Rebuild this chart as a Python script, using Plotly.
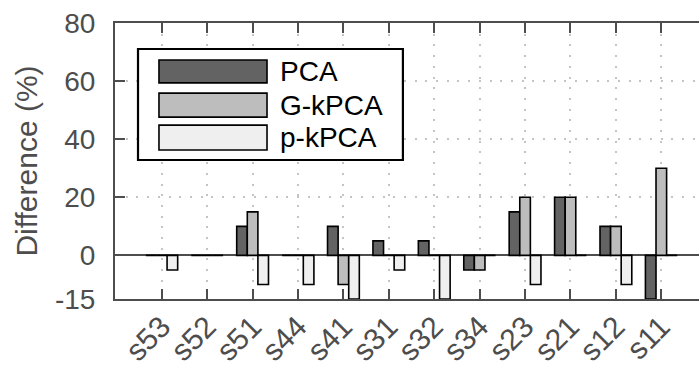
import plotly.graph_objects as go

categories = ["s53", "s52", "s51", "s44", "s41", "s31", "s32", "s34", "s23", "s21", "s12", "s11"]
pca = [0, 0, 10, 0, 10, 5, 5, -5, 15, 20, 10, -15]
gkpca = [0, 0, 15, 0, -10, 0, 0, -5, 20, 20, 10, 30]
pkpca = [-5, 0, -10, -10, -15, -5, -15, 0, -10, 0, -10, 0]
series_names = ["PCA", "G-kPCA", "p-kPCA"]
series_colors = ["#636363", "#bdbdbd", "#efefef"]
y_ticks = [-15, 0, 20, 40, 60, 80]

FONT = "Liberation Sans, Arial, Helvetica, sans-serif"
AX = "#4d4d4d"
GRID = "#c4c4c4"

fig = go.Figure()
for name, vals, col in zip(series_names, [pca, gkpca, pkpca], series_colors):
    fig.add_trace(go.Bar(
        x=categories, y=vals, name=name,
        marker=dict(color=col, line=dict(color="#000000", width=1.6)),
        showlegend=False,
    ))

fig.update_layout(
    width=699, height=369,
    margin=dict(l=115, r=0, t=23, b=70),
    paper_bgcolor="white", plot_bgcolor="white",
    barmode="group", bargap=0.3, bargroupgap=0,
    font=dict(family=FONT, color=AX),
    xaxis=dict(
        type="category", range=[-1.03, 11.83], automargin=False,
        showline=True, linecolor=AX, linewidth=2, mirror="ticks",
        ticks="inside", ticklen=10, tickwidth=2, tickcolor=AX,
        tickangle=-45, tickfont=dict(size=30, color=AX, family=FONT),
        showgrid=True, gridcolor=GRID, griddash="2px,8.7px", gridwidth=2,
        zeroline=False, ticklabelstandoff=-4,
    ),
    yaxis=dict(
        range=[-15, 80], tickvals=y_ticks, ticktext=[str(v) for v in y_ticks], automargin=False,
        showline=True, linecolor=AX, linewidth=2, mirror=False,
        ticks="inside", ticklen=10, tickwidth=2, tickcolor=AX,
        tickfont=dict(size=28, color=AX, family=FONT),
        showgrid=True, gridcolor=GRID, griddash="2px,8.7px", gridwidth=2,
        zeroline=True, zerolinecolor=AX, zerolinewidth=2,
        title=dict(text="Difference (%)", font=dict(size=30, color=AX, family=FONT), standoff=8),
        ticklabelstandoff=12,
    ),
)

# legend drawn manually (large swatches as in the reference)
shapes = [dict(type="rect", xref="paper", yref="paper", x0=0.0394, x1=0.493, y0=0.5036, y1=0.9058,
               line=dict(color="#000000", width=2.2), fillcolor="white", layer="above")]
row_y = [(0.866, 0.783), (0.746, 0.659), (0.630, 0.540)]
annotations = []
for (ytop, ybot), name, col in zip(row_y, series_names, series_colors):
    shapes.append(dict(type="rect", xref="paper", yref="paper", x0=0.0753, x1=0.2603, y0=ybot, y1=ytop,
                       line=dict(color="#000000", width=1.6), fillcolor=col, layer="above"))
    annotations.append(dict(xref="paper", yref="paper", x=0.279, y=(ytop + ybot) / 2, text=name,
                            showarrow=False, xanchor="left", yanchor="middle",
                            font=dict(size=28, color="#000000", family=FONT)))
fig.update_layout(shapes=shapes, annotations=annotations)

fig.write_html("out.html")
